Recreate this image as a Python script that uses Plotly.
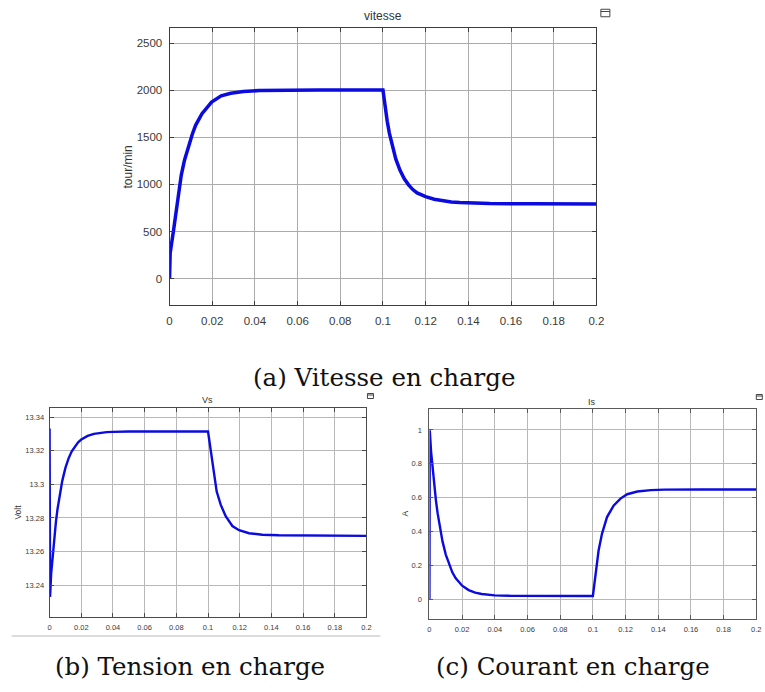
import plotly.graph_objects as go

# ---------------- data ----------------
t_speed = [0, 0.0003, 0.0018, 0.003, 0.0045, 0.0055, 0.007, 0.0093, 0.0107, 0.0122,
           0.0152, 0.0197, 0.0242, 0.0287, 0.0346, 0.0421, 0.051, 0.07, 0.1,
           0.101, 0.102, 0.103, 0.104, 0.106, 0.108, 0.110, 0.112, 0.114, 0.116,
           0.118, 0.120, 0.124, 0.128, 0.132, 0.136, 0.14, 0.15, 0.17, 0.2]
speed = [0, 271, 500, 694, 940, 1099, 1257, 1451, 1535, 1627,
         1750, 1873, 1940, 1968, 1986, 1996, 2000, 2003, 2003,
         1820, 1670, 1545, 1440, 1270, 1150, 1060, 995, 945, 910,
         885, 870, 842, 825, 814, 807, 803, 797, 794, 793]

t_vs = [0, 0.0003, 0.001, 0.002, 0.003, 0.004, 0.005, 0.006, 0.008, 0.010, 0.012,
        0.014, 0.016, 0.018, 0.020, 0.024, 0.028, 0.032, 0.036, 0.04, 0.05, 0.1,
        0.10105, 0.10232, 0.10379, 0.10547, 0.108, 0.11116, 0.11537, 0.11958,
        0.1259, 0.1343, 0.1448, 0.168, 0.2]
vs = [13.3333, 13.233, 13.2469, 13.2587, 13.2690, 13.2777, 13.2853, 13.2918, 13.3021,
      13.3098, 13.3155, 13.3197, 13.3228, 13.3251, 13.3267, 13.3289, 13.3301, 13.3307,
      13.3311, 13.3313, 13.3315, 13.3315,
      13.3249, 13.3151, 13.3054, 13.2957, 13.2879, 13.2810, 13.2752, 13.2727,
      13.2709, 13.2700, 13.2697, 13.2694, 13.2693]

t_is = [0, 0.0002, 0.001, 0.002, 0.003, 0.004, 0.005, 0.006, 0.008, 0.010, 0.012,
        0.014, 0.016, 0.018, 0.020, 0.024, 0.028, 0.032, 0.036, 0.04, 0.044, 0.05, 0.1,
        0.10082, 0.10206, 0.1035, 0.10557, 0.10866, 0.11278, 0.1169, 0.1210,
        0.1272, 0.1355, 0.1437, 0.1664, 0.2]
i_s = [0, 0.998, 0.872, 0.762, 0.665, 0.581, 0.508, 0.445, 0.341, 0.263, 0.204,
       0.158, 0.124, 0.099, 0.079, 0.053, 0.038, 0.030, 0.025, 0.022, 0.020, 0.019, 0.018,
       0.089, 0.188, 0.287, 0.386, 0.485, 0.554, 0.594, 0.620,
       0.636, 0.644, 0.647, 0.648, 0.648]

x_ticks = [0, 0.02, 0.04, 0.06, 0.08, 0.1, 0.12, 0.14, 0.16, 0.18, 0.2]
x_labels = ["0", "0.02", "0.04", "0.06", "0.08", "0.1", "0.12", "0.14", "0.16", "0.18", "0.2"]
speed_ticks = [0, 500, 1000, 1500, 2000, 2500]
speed_labels = ["0", "500", "1000", "1500", "2000", "2500"]
vs_ticks = [13.24, 13.26, 13.28, 13.30, 13.32, 13.34]
vs_labels = ["13.24", "13.26", "13.28", "13.3", "13.32", "13.34"]
is_ticks = [0, 0.2, 0.4, 0.6, 0.8, 1.0]
is_labels = ["0", "0.2", "0.4", "0.6", "0.8", "1"]

titles = ["vitesse", "Vs", "Is"]
ylabels = ["tour/min", "Volt", "A"]
captions = ["(a) Vitesse en charge", "(b) Tension en charge", "(c) Courant en charge"]

# ---------------- layout helpers ----------------
W, H = 765, 692
def px(x): return ((x - 2.4) / 0.986) / W
def py(y): return 1 - y / H

BLUE = "#0b0be0"
SANS = "Liberation Sans, Arial, sans-serif"
SERIF = "DejaVu Serif, serif"

fig = go.Figure()
fig.add_trace(go.Scatter(x=t_speed, y=speed, mode="lines",
                         line=dict(color=BLUE, width=3.5), xaxis="x", yaxis="y",
                         showlegend=False, hoverinfo="skip"))
fig.add_trace(go.Scatter(x=t_vs, y=vs, mode="lines",
                         line=dict(color=BLUE, width=2.4), xaxis="x2", yaxis="y2",
                         showlegend=False, hoverinfo="skip"))
fig.add_trace(go.Scatter(x=t_is, y=i_s, mode="lines",
                         line=dict(color=BLUE, width=2.4), xaxis="x3", yaxis="y3",
                         showlegend=False, hoverinfo="skip"))

def axis_style(fs, grid, frame, standoff):
    return dict(showgrid=True, gridcolor=grid, gridwidth=1, zeroline=False,
                showline=True, linecolor=frame, linewidth=1, mirror="ticks",
                ticks="inside", ticklen=4, tickcolor=frame,
                tickfont=dict(family=SANS, size=fs, color="#3a3a3a"),
                ticklabelstandoff=standoff, fixedrange=True)

top_dom_x = [px(169), px(596)]
top_dom_y = [py(305), py(28)]
bl_dom_x = [px(49), px(366)]
bl_dom_y = [py(617), py(408)]
br_dom_x = [px(429), px(756)]
br_dom_y = [py(619), py(409)]

fig.update_layout(
    width=W, height=H, margin=dict(l=0, r=0, t=0, b=0),
    paper_bgcolor="white", plot_bgcolor="white", showlegend=False,
    xaxis=dict(domain=top_dom_x, anchor="y", range=[0, 0.2], tickvals=x_ticks, ticktext=x_labels,
               **axis_style(11.5, "#ababab", "#3c3c3c", 5)),
    yaxis=dict(domain=top_dom_y, anchor="x", range=[-280, 2660], tickvals=speed_ticks, ticktext=speed_labels,
               **axis_style(11.5, "#ababab", "#3c3c3c", 4)),
    xaxis2=dict(domain=bl_dom_x, anchor="y2", range=[0, 0.2], tickvals=x_ticks, ticktext=x_labels,
                **axis_style(7.5, "#b8b8b8", "#4a4a4a", 3)),
    yaxis2=dict(domain=bl_dom_y, anchor="x2", range=[13.221, 13.3455], tickvals=vs_ticks, ticktext=vs_labels,
                **axis_style(7.5, "#b8b8b8", "#4a4a4a", 3)),
    xaxis3=dict(domain=br_dom_x, anchor="y3", range=[0, 0.2], tickvals=x_ticks, ticktext=x_labels,
                **axis_style(7.5, "#b8b8b8", "#5a5a5a", 3)),
    yaxis3=dict(domain=br_dom_y, anchor="x3", range=[-0.118, 1.124], tickvals=is_ticks, ticktext=is_labels,
                **axis_style(7.5, "#b8b8b8", "#5a5a5a", 5)),
)

ann = []
# panel titles
ann.append(dict(text=titles[0], x=px(383), y=py(16), font=dict(family=SANS, size=12, color="#333333")))
ann.append(dict(text=titles[1], x=px(207), y=py(400), font=dict(family=SANS, size=9, color="#333333")))
ann.append(dict(text=titles[2], x=px(592), y=py(402), font=dict(family=SANS, size=9, color="#333333")))
# y axis labels
ann.append(dict(text=ylabels[0], x=px(127), y=py(167), textangle=-90, font=dict(family=SANS, size=12, color="#333333")))
ann.append(dict(text=ylabels[1], x=px(17), y=py(512), textangle=-90, font=dict(family=SANS, size=8.5, color="#333333")))
ann.append(dict(text=ylabels[2], x=px(405), y=py(513), textangle=-90, font=dict(family=SANS, size=8.5, color="#333333")))
# captions
ann.append(dict(text=captions[0], x=px(384), y=py(377), font=dict(family=SERIF, size=24.5, color="#111111")))
ann.append(dict(text=captions[1], x=px(189), y=py(666), font=dict(family=SERIF, size=24.5, color="#111111")))
ann.append(dict(text=captions[2], x=px(573), y=py(666), font=dict(family=SERIF, size=24.5, color="#111111")))
for a in ann:
    a.update(xref="paper", yref="paper", showarrow=False, xanchor="center", yanchor="middle")
fig.update_layout(annotations=ann)

# small "undock" icons and a faint frame line under panel (b)
shapes = []
for (cx, cy, s) in [(605, 13, 9), (370, 396, 6), (759, 397, 6)]:
    shapes.append(dict(type="rect", xref="paper", yref="paper",
                       x0=px(cx - s / 2), x1=px(cx + s / 2), y0=py(cy + s / 2.4), y1=py(cy - s / 2.4),
                       line=dict(color="#444444", width=1), fillcolor="white"))
    shapes.append(dict(type="line", xref="paper", yref="paper",
                       x0=px(cx - s / 2), x1=px(cx + s / 2), y0=py(cy - s / 6), y1=py(cy - s / 6),
                       line=dict(color="#444444", width=1)))
shapes.append(dict(type="line", xref="paper", yref="paper", x0=px(11), x1=px(380), y0=py(636), y1=py(636),
                   line=dict(color="#dcdcdc", width=2)))
fig.update_layout(shapes=shapes)

fig.write_html("out.html")
